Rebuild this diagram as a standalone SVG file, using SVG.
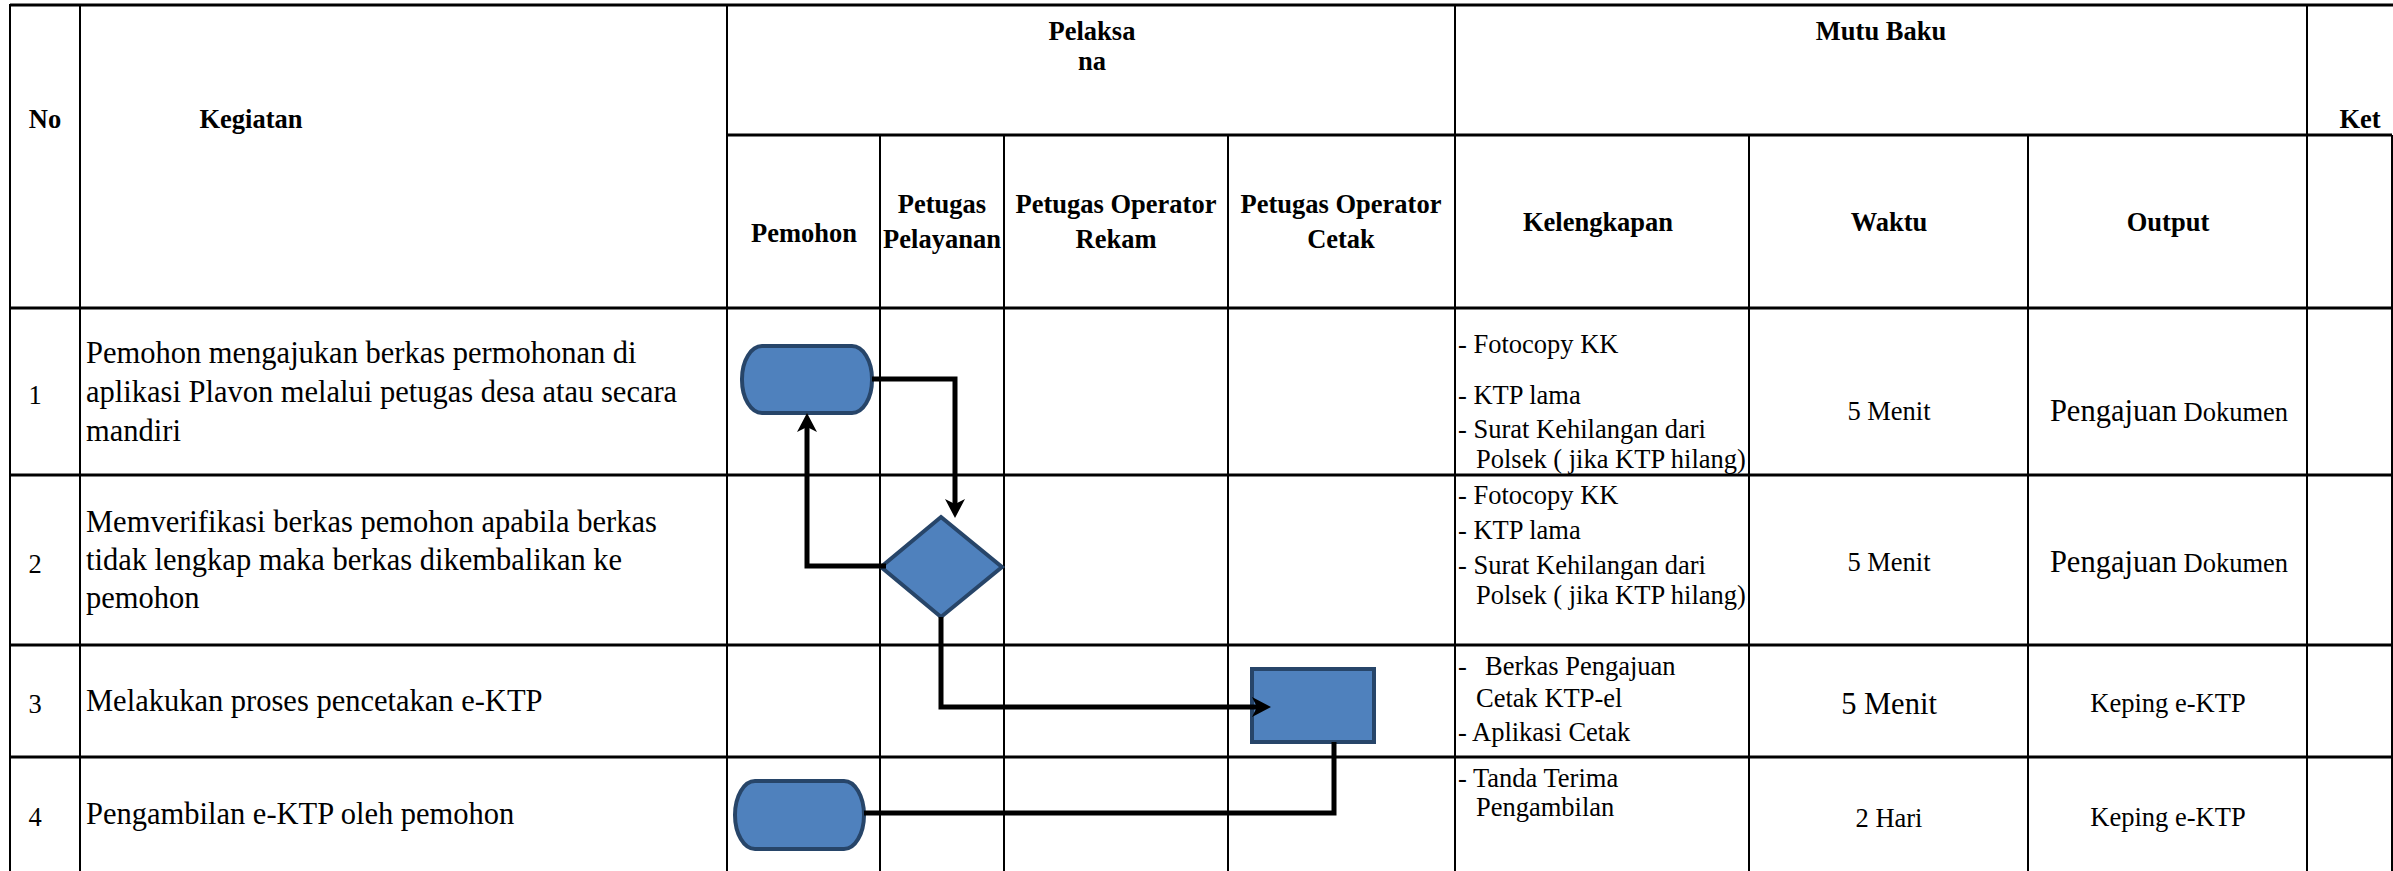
<svg xmlns="http://www.w3.org/2000/svg" width="2393" height="871" viewBox="0 0 2393 871">
<style>
.grid line{stroke:#000;}
.h{stroke-width:3;}
.v{stroke-width:2;}
text{font-family:'Liberation Serif','Times New Roman',serif;fill:#000;}
.hd{font-weight:bold;font-size:26.5px;text-anchor:middle;}
.desc{font-size:30.5px;}
.num{font-size:26.5px;text-anchor:middle;}
.sm{font-size:26.5px;}
.mid{text-anchor:middle;}
.big{font-size:30.5px;}
.shape{fill:#4F81BD;stroke:#274569;stroke-width:4;}
.conn{fill:none;stroke:#000;stroke-width:5;}
</style>
<defs>
<marker id="arr" viewBox="-6 -12 22 24" markerWidth="22" markerHeight="24" refX="0" refY="0" markerUnits="userSpaceOnUse" orient="auto">
<path d="M14,0 L-5,-10 L0,0 L-5,10 Z" fill="#000"/>
</marker>
</defs>
<rect x="0" y="0" width="2393" height="871" fill="#fff"/>
<g id="grid" class="grid">
<line class="h" x1="10" y1="5" x2="2393" y2="5"/>
<line class="h" x1="727" y1="135" x2="2392" y2="135"/>
<line class="h" x1="10" y1="308" x2="2392" y2="308"/>
<line class="h" x1="10" y1="475" x2="2392" y2="475"/>
<line class="h" x1="10" y1="645" x2="2392" y2="645"/>
<line class="h" x1="10" y1="757" x2="2392" y2="757"/>
<line class="v" x1="10" y1="4" x2="10" y2="871"/>
<line class="v" x1="80" y1="4" x2="80" y2="871"/>
<line class="v" x1="727" y1="4" x2="727" y2="871"/>
<line class="v" x1="880" y1="135" x2="880" y2="871"/>
<line class="v" x1="1004" y1="135" x2="1004" y2="871"/>
<line class="v" x1="1228" y1="135" x2="1228" y2="871"/>
<line class="v" x1="1455" y1="4" x2="1455" y2="871"/>
<line class="v" x1="1749" y1="135" x2="1749" y2="871"/>
<line class="v" x1="2028" y1="135" x2="2028" y2="871"/>
<line class="v" x1="2307" y1="4" x2="2307" y2="871"/>
<line class="v" x1="2392" y1="135" x2="2392" y2="871"/>
</g>
<g id="headers">
<text class="hd" x="45" y="128">No</text>
<text class="hd" x="251" y="128">Kegiatan</text>
<text class="hd" x="1092" y="40">Pelaksa</text>
<text class="hd" x="1092" y="70">na</text>
<text class="hd" x="1881" y="40">Mutu Baku</text>
<text class="hd" x="2360" y="128">Ket</text>
<text class="hd" x="804" y="242">Pemohon</text>
<text class="hd" x="942" y="213">Petugas</text>
<text class="hd" x="942" y="248">Pelayanan</text>
<text class="hd" x="1116" y="213">Petugas Operator</text>
<text class="hd" x="1116" y="248">Rekam</text>
<text class="hd" x="1341" y="213">Petugas Operator</text>
<text class="hd" x="1341" y="248">Cetak</text>
<text class="hd" x="1598" y="231">Kelengkapan</text>
<text class="hd" x="1889" y="231">Waktu</text>
<text class="hd" x="2168" y="231">Output</text>
</g>
<g id="row1">
<text class="num" x="35" y="404">1</text>
<text class="desc" x="86" y="363">Pemohon mengajukan berkas permohonan di</text>
<text class="desc" x="86" y="402">aplikasi Plavon melalui petugas desa atau secara</text>
<text class="desc" x="86" y="441">mandiri</text>
<text class="sm" x="1458" y="353">- Fotocopy KK</text>
<text class="sm" x="1458" y="404">- KTP lama</text>
<text class="sm" x="1458" y="438">- Surat Kehilangan dari</text>
<text class="sm" x="1476" y="468">Polsek ( jika KTP hilang)</text>
<text class="sm mid" x="1889" y="420">5 Menit</text>
<text class="mid" x="2169" y="421"><tspan class="big">Pengajuan</tspan><tspan class="sm"> Dokumen</tspan></text>
</g>
<g id="row2">
<text class="num" x="35" y="573">2</text>
<text class="desc" x="86" y="532">Memverifikasi berkas pemohon apabila berkas</text>
<text class="desc" x="86" y="570">tidak lengkap maka berkas dikembalikan ke</text>
<text class="desc" x="86" y="608">pemohon</text>
<text class="sm" x="1458" y="504">- Fotocopy KK</text>
<text class="sm" x="1458" y="539">- KTP lama</text>
<text class="sm" x="1458" y="574">- Surat Kehilangan dari</text>
<text class="sm" x="1476" y="604">Polsek ( jika KTP hilang)</text>
<text class="sm mid" x="1889" y="571">5 Menit</text>
<text class="mid" x="2169" y="572"><tspan class="big">Pengajuan</tspan><tspan class="sm"> Dokumen</tspan></text>
</g>
<g id="row3">
<text class="num" x="35" y="713">3</text>
<text class="desc" x="86" y="711">Melakukan proses pencetakan e-KTP</text>
<text class="sm" x="1458" y="675">-<tspan x="1485">Berkas Pengajuan</tspan></text>
<text class="sm" x="1476" y="707">Cetak KTP-el</text>
<text class="sm" x="1458" y="741">- Aplikasi Cetak</text>
<text class="big mid" x="1889" y="714">5 Menit</text>
<text class="sm mid" x="2168" y="712">Keping e-KTP</text>
</g>
<g id="row4">
<text class="num" x="35" y="826">4</text>
<text class="desc" x="86" y="824">Pengambilan e-KTP oleh pemohon</text>
<text class="sm" x="1458" y="787">- Tanda Terima</text>
<text class="sm" x="1476" y="816">Pengambilan</text>
<text class="sm mid" x="1889" y="827">2 Hari</text>
<text class="sm mid" x="2168" y="826">Keping e-KTP</text>
</g>
<g id="node-start">
<rect class="shape" x="742" y="346" width="130" height="67" rx="20" ry="33"/>
</g>
<g id="node-verify">
<polygon class="shape" points="941,517 1002,567 941,617 881,567"/>
</g>
<g id="node-print">
<rect class="shape" x="1252" y="669" width="122" height="73"/>
</g>
<g id="node-end">
<rect class="shape" x="735" y="781" width="129" height="68" rx="20" ry="34"/>
</g>
<g id="connectors">
<path class="conn" d="M872,379 H955 V504" marker-end="url(#arr)"/>
<path class="conn" d="M886,566 H807 V427" marker-end="url(#arr)"/>
<path class="conn" d="M941,617 V707 H1257" marker-end="url(#arr)"/>
<path class="conn" d="M1334,742 V813 H864"/>
</g>
</svg>
